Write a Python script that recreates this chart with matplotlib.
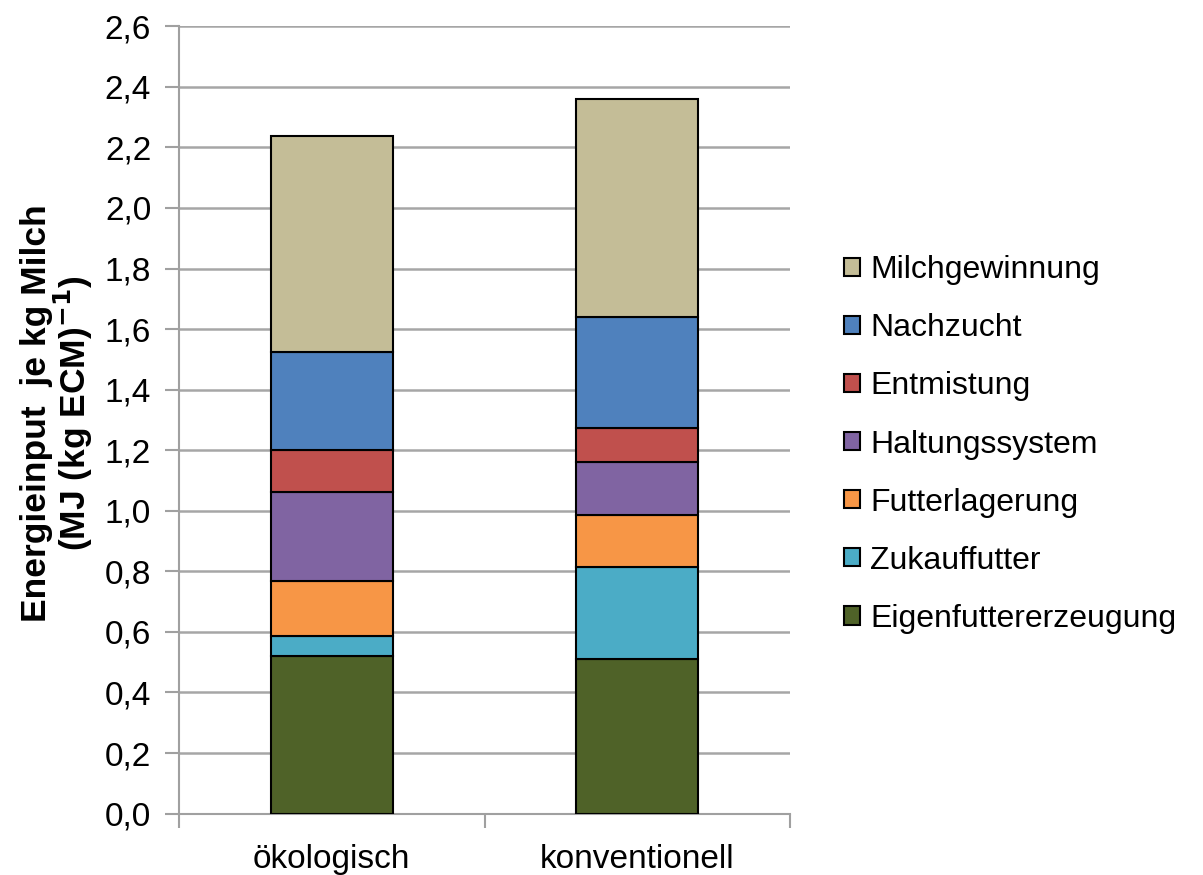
import matplotlib
matplotlib.use("Agg")
import matplotlib.pyplot as plt
import numpy as np

plt.rcParams['font.family'] = ['Liberation Sans', 'DejaVu Sans']

categories = ["ökologisch", "konventionell"]
components = ["Eigenfuttererzeugung", "Zukauffutter", "Futterlagerung",
              "Haltungssystem", "Entmistung", "Nachzucht", "Milchgewinnung"]
eigenfutter = [0.521, 0.510]
zukauffutter = [0.066, 0.305]
futterlagerung = [0.181, 0.171]
haltungssystem = [0.295, 0.174]
entmistung = [0.137, 0.112]
nachzucht = [0.323, 0.367]
milchgewinnung = [0.715, 0.720]
colors = ["#4F6228", "#4BACC6", "#F79646", "#8064A2", "#C0504D", "#4F81BD", "#C4BD97"]
yticks = np.arange(0, 2.61, 0.2)

series = [eigenfutter, zukauffutter, futterlagerung, haltungssystem,
          entmistung, nachzucht, milchgewinnung]

fig = plt.figure(figsize=(12.03, 8.75), dpi=100)
ax = fig.add_axes([0.1488, 0.0702, 0.6567 - 0.1488, 0.970 - 0.0702])

x = np.arange(len(categories))
bottom = np.zeros(len(categories))
handles = []
for name, vals, col in zip(components, series, colors):
    h = ax.bar(x, vals, 0.4, bottom=bottom, color=col, edgecolor="black",
               linewidth=1.5, label=name, zorder=3)
    handles.append(h)
    bottom += np.array(vals)

ax.set_xlim(-0.5, 1.5)
ax.set_ylim(0, 2.6)
ax.set_yticks(yticks)
ax.set_yticklabels([f"{v:.1f}".replace(".", ",") for v in yticks], fontsize=24)
ax.set_xticks(x)
ax.set_xticklabels(categories, fontsize=24)
ax.set_xticks([-0.5, 0.5, 1.5], minor=True)
ax.tick_params(axis="x", which="major", length=0, pad=22)
ax.tick_params(axis="x", which="minor", length=10, width=1.5, color="#a0a0a0")
ax.tick_params(axis="y", length=10, width=1.5, color="#a0a0a0", pad=10)

ax.grid(axis="y", color="#a6a6a6", linewidth=1.8, zorder=0)
ax.set_axisbelow(True)
for s in ["top", "right"]:
    ax.spines[s].set_visible(False)
for s in ["left", "bottom"]:
    ax.spines[s].set_color("#a0a0a0")
    ax.spines[s].set_linewidth(1.5)

fig.text(0.048, 0.528, "Energieinput  je kg Milch\n(MJ (kg ECM)$^{\\mathbf{-1}}$)",
         rotation=90, ha="center", va="center", multialignment="center",
         fontsize=25.5, fontweight="bold", linespacing=0.95)

leg = fig.legend(handles[::-1], components[::-1], loc="center left",
                 bbox_to_anchor=(0.678, 0.492), frameon=False, fontsize=23,
                 handlelength=0.5, handleheight=0.5, handletextpad=0.3,
                 labelspacing=0.88)

fig.savefig("out.png", dpi=100)
